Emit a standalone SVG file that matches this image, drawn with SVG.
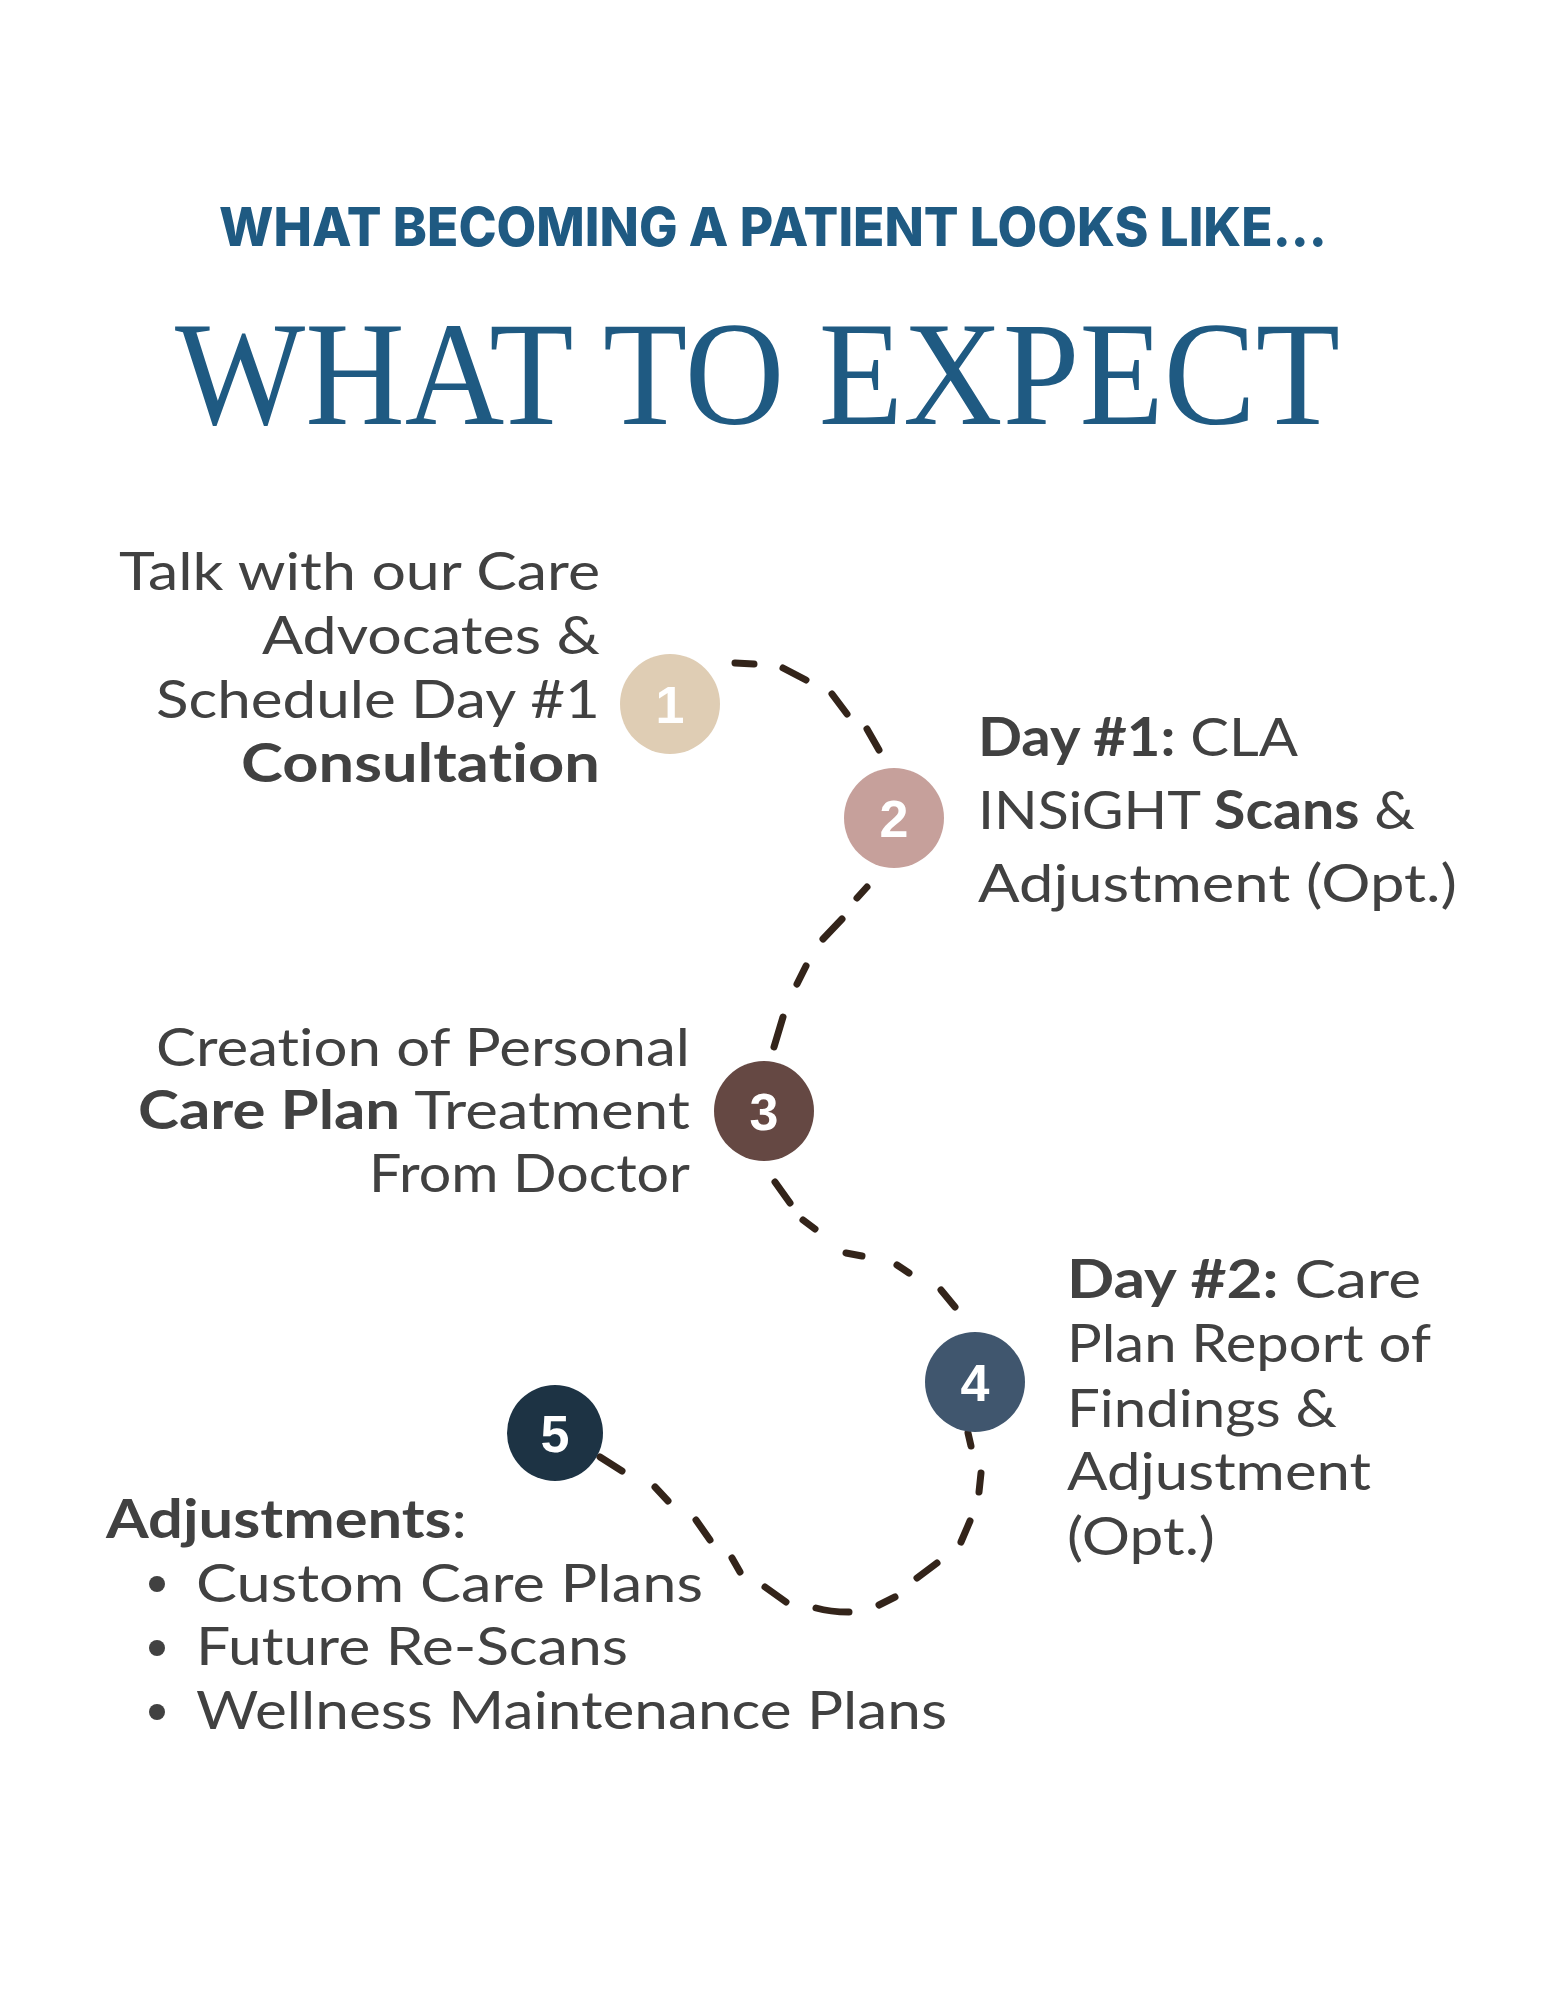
<svg xmlns="http://www.w3.org/2000/svg" width="1545" height="2000" viewBox="0 0 1545 2000">
<style>
.hdr{font-family:Inter,"Noto Sans",sans-serif;font-weight:800;font-size:54px;fill:#1f5a82}
.ttl{font-family:"Liberation Serif","DejaVu Serif",serif;font-size:148px;fill:#1f5a82}
.body{font-family:Lato,"Noto Sans",sans-serif;font-size:53px;fill:#414141;font-variant-ligatures:none;font-feature-settings:"liga" 0,"clig" 0}
.end{text-anchor:end}
.b{font-weight:700}
.num{font-family:"Liberation Sans",Arial,sans-serif;font-weight:700;font-size:52px;fill:#ffffff;text-anchor:middle}
.dash{stroke:#33241a;stroke-width:7;stroke-linecap:round;fill:none}
.bul{fill:#414141}
</style>
<rect width="1545" height="2000" fill="#ffffff"/>
<text class="hdr" x="219" y="246" textLength="1108" lengthAdjust="spacingAndGlyphs">WHAT BECOMING A PATIENT LOOKS LIKE...</text>
<text class="ttl" x="175" y="424" textLength="1165" lengthAdjust="spacingAndGlyphs">WHAT TO EXPECT</text>

<g id="connectors">
<path class="dash" d="M735,663 L754,664"/>
<path class="dash" d="M783,668 L806,680"/>
<path class="dash" d="M832,694 L847,714"/>
<path class="dash" d="M867,729 L879,750"/>
<path class="dash" d="M867,887 L857,898"/>
<path class="dash" d="M842,919 L823,939"/>
<path class="dash" d="M806,966 L797,984"/>
<path class="dash" d="M783,1017 L774,1047"/>
<path class="dash" d="M775,1182 L790,1203"/>
<path class="dash" d="M803,1220 L815,1229"/>
<path class="dash" d="M846,1253 L862,1256"/>
<path class="dash" d="M897,1265 L909,1273"/>
<path class="dash" d="M941,1290 L955,1307"/>
<path class="dash" d="M968,1433 L971,1446"/>
<path class="dash" d="M981,1473 L979,1492"/>
<path class="dash" d="M970,1521 L961,1542"/>
<path class="dash" d="M937,1563 L917,1578"/>
<path class="dash" d="M895,1597 L879,1605"/>
<path class="dash" d="M849,1612 Q830,1612 816,1608"/>
<path class="dash" d="M786,1602 L765,1587"/>
<path class="dash" d="M740,1572 L732,1558"/>
<path class="dash" d="M710,1540 L696,1520"/>
<path class="dash" d="M668,1501 L655,1487"/>
<path class="dash" d="M622,1471 L600,1457"/>
</g>

<g id="step1">
<circle cx="670" cy="704" r="50" fill="#dfcdb4"/>
<text class="num" x="670" y="723">1</text>
<text class="body end" x="600" y="590" textLength="481" lengthAdjust="spacingAndGlyphs">Talk with our Care</text>
<text class="body end" x="600" y="654" textLength="338" lengthAdjust="spacingAndGlyphs">Advocates &amp;</text>
<text class="body end" x="600" y="718" textLength="444" lengthAdjust="spacingAndGlyphs">Schedule Day #1</text>
<text class="body end b" x="600" y="782" textLength="359" lengthAdjust="spacingAndGlyphs">Consultation</text>
</g>

<g id="step2">
<circle cx="894" cy="818" r="50" fill="#c6a09b"/>
<text class="num" x="894" y="837">2</text>
<text class="body" x="978" y="756" textLength="320" lengthAdjust="spacingAndGlyphs"><tspan class="b">Day #1:</tspan> CLA</text>
<text class="body" x="978" y="829" textLength="437" lengthAdjust="spacingAndGlyphs">INSiGHT <tspan class="b">Scans</tspan> &amp;</text>
<text class="body" x="978" y="902" textLength="479" lengthAdjust="spacingAndGlyphs">Adjustment (Opt.)</text>
</g>

<g id="step3">
<circle cx="764" cy="1111" r="50" fill="#654843"/>
<text class="num" x="764" y="1130">3</text>
<text class="body end" x="690" y="1066" textLength="534" lengthAdjust="spacingAndGlyphs">Creation of Personal</text>
<text class="body end" x="690" y="1129" textLength="552" lengthAdjust="spacingAndGlyphs"><tspan class="b">Care Plan</tspan> Treatment</text>
<text class="body end" x="690" y="1192" textLength="321" lengthAdjust="spacingAndGlyphs">From Doctor</text>
</g>

<g id="step4">
<circle cx="975" cy="1382" r="50" fill="#40566e"/>
<text class="num" x="975" y="1401">4</text>
<text class="body" x="1067" y="1298" textLength="354" lengthAdjust="spacingAndGlyphs"><tspan class="b">Day #2:</tspan> Care</text>
<text class="body" x="1067" y="1362" textLength="364" lengthAdjust="spacingAndGlyphs">Plan Report of</text>
<text class="body" x="1067" y="1427" textLength="270" lengthAdjust="spacingAndGlyphs">Findings &amp;</text>
<text class="body" x="1067" y="1490" textLength="304" lengthAdjust="spacingAndGlyphs">Adjustment</text>
<text class="body" x="1067" y="1555" textLength="148" lengthAdjust="spacingAndGlyphs">(Opt.)</text>
</g>

<g id="step5">
<circle cx="555" cy="1433" r="48" fill="#1d3344"/>
<text class="num" x="555" y="1452">5</text>
<text class="body" x="106" y="1538" textLength="361" lengthAdjust="spacingAndGlyphs"><tspan class="b">Adjustments</tspan>:</text>
<circle class="bul" cx="157" cy="1584" r="8"/>
<circle class="bul" cx="157" cy="1648" r="8"/>
<circle class="bul" cx="157" cy="1712" r="8"/>
<text class="body" x="196" y="1602" textLength="507" lengthAdjust="spacingAndGlyphs">Custom Care Plans</text>
<text class="body" x="196" y="1665" textLength="432" lengthAdjust="spacingAndGlyphs">Future Re-Scans</text>
<text class="body" x="196" y="1729" textLength="751" lengthAdjust="spacingAndGlyphs">Wellness Maintenance Plans</text>
</g>
</svg>
